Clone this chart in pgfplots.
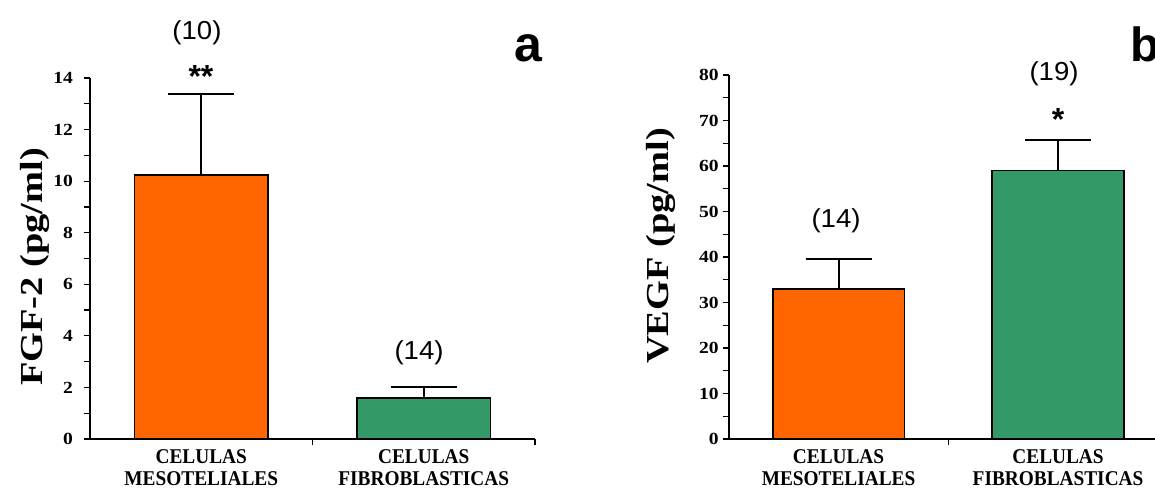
\documentclass[border=0pt]{standalone}
\usepackage{graphicx}
\usepackage{fontspec}
\setmainfont{Liberation Serif}
\newfontfamily\arial{Liberation Sans}
\usepackage{pgfplots}
\pgfplotsset{compat=1.18}
\definecolor{barorange}{RGB}{255,102,0}
\definecolor{bargreen}{RGB}{51,153,102}
\newcommand\cl[1]{\scalebox{0.92}[1]{#1}}
\pgfplotsset{
  panel/.style={
    scale only axis, anchor=south west,
    axis lines=left, axis line style={line width=0.8pt,-},
    xmin=-0.5, xmax=1.5, ymin=0,
    ybar,
    xtick={0.5,1.5}, xticklabels={},
    extra x ticks={0,1},
    extra x tick labels={{\cl{CELULAS}\\\cl{MESOTELIALES}},{\cl{CELULAS}\\\cl{FIBROBLASTICAS}}},
    extra x tick style={major tick length=0pt,
      xticklabel style={align=center, font=\bfseries\fontsize{10.5}{11.2}\selectfont, yshift=-1.8pt}},
    tick align=outside, major tick length=3pt, minor tick length=3pt,
    every tick/.style={black, line width=0.6pt},
    /pgf/number format/assume math mode=true,
    yticklabel={\scalebox{1.15}[1]{\pgfmathprintnumber{\tick}}},
    yticklabel style={font=\bfseries\fontsize{8.5}{10}\selectfont},
  },
  ebar/.style={bar width=0.6, bar shift=0pt, draw=black, line width=0.8pt,
    error bars/.cd, y dir=plus, y explicit,
    error bar style={line width=1pt,black},
    error mark options={rotate=90, mark size=16.5pt, line width=1pt, black}},
}
\begin{document}
\begin{tikzpicture}
\useasboundingbox (0,0) rectangle (577.5pt,245pt);
\clip (0,0) rectangle (577.5pt,245pt);
% panel a
\begin{axis}[panel, at={(45pt,25.5pt)}, width=222.5pt, height=180.5pt,
  ymax=14, ytick={0,2,...,14}, minor ytick={1,3,...,13},
  yticklabel style={xshift=-2pt}]
\addplot[fill=barorange, ebar] coordinates {(0,10.24) +- (0,3.15)};
\addplot[fill=bargreen, ebar] coordinates {(1,1.60) +- (0,0.40)};
\end{axis}
% panel b
\begin{axis}[panel, at={(364.4pt,25.5pt)}, width=219.5pt, height=182pt,
  ymax=80, ytick={0,10,...,80}, minor ytick={5,15,...,75},
  yticklabel style={xshift=1.5pt}]
\addplot[fill=barorange, ebar] coordinates {(0,32.9) +- (0,6.7)};
\addplot[fill=bargreen, ebar] coordinates {(1,59.0) +- (0,6.7)};
\end{axis}
% axis titles
\node[rotate=90, font=\bfseries\fontsize{16}{18}\selectfont] at (17.5pt,111.5pt) {\scalebox{1.2}[1]{FGF-2 (pg/ml)}};
\node[rotate=90, font=\bfseries\fontsize{16}{18}\selectfont] at (330.5pt,122pt) {\scalebox{1.2}[1]{VEGF (pg/ml)}};
% annotations
\begin{scope}[every node/.style={font=\arial\fontsize{13}{15}\selectfont}]
\node at (98.5pt,228.5pt) {\scalebox{1.06}[1]{(10)}};
\node at (209.5pt,68.5pt) {\scalebox{1.06}[1]{(14)}};
\node at (418pt,134.5pt) {\scalebox{1.06}[1]{(14)}};
\node at (527pt,208.25pt) {\scalebox{1.06}[1]{(19)}};
\end{scope}
\node[anchor=base, inner sep=0pt, font=\arial\bfseries\fontsize{16}{18}\selectfont] at (100.5pt,201pt) {**};
\node[anchor=base, inner sep=0pt, font=\arial\bfseries\fontsize{16}{18}\selectfont] at (529pt,179.5pt) {*};
\node[anchor=base, inner sep=0pt, font=\arial\bfseries\fontsize{25}{28}\selectfont] at (264.25pt,214pt) {a};
\node[anchor=base west, inner sep=0pt, font=\arial\bfseries\fontsize{24}{28}\selectfont] at (564.8pt,214pt) {b};
\end{tikzpicture}
\end{document}
